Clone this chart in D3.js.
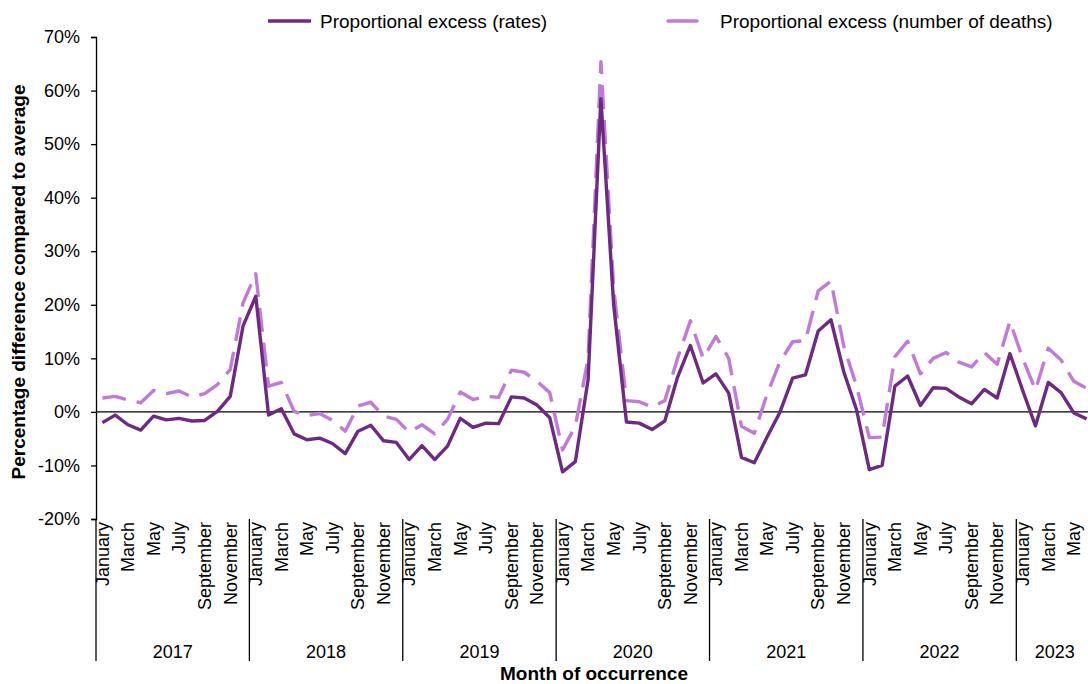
<!DOCTYPE html>
<html>
<head>
<meta charset="utf-8">
<script src="https://cdn.jsdelivr.net/npm/d3@7"></script>
<style>
  body { margin: 0; background: #fff; }
  svg { font-family: "Liberation Sans", Arial, sans-serif; }
</style>
</head>
<body>
<div id="chart"></div>
<script>
// Months shown, Jan 2017 to Jun 2023
var years = [2017, 2018, 2019, 2020, 2021, 2022, 2023]
var monthNames = ['January', 'February', 'March', 'April', 'May', 'June',
  'July', 'August', 'September', 'October', 'November', 'December']
var monthsInYear = [12, 12, 12, 12, 12, 12, 6]

// Proportional excess (rates), %
var rates = [
  -2.0, -0.6, -2.4, -3.4, -0.8, -1.5, -1.2, -1.7, -1.6, 0.1, 2.9, 16.0,
  21.6, -0.6, 0.6, -4.1, -5.2, -4.9, -5.9, -7.8, -3.6, -2.5, -5.4, -5.7,
  -8.9, -6.3, -8.9, -6.4, -1.2, -2.9, -2.1, -2.2, 2.8, 2.6, 1.3, -1.1,
  -11.2, -9.3, 6.0, 58.5, 20.0, -1.9, -2.1, -3.3, -1.7, 6.5, 12.4, 5.4,
  7.1, 3.5, -8.5, -9.5, -4.7, -0.1, 6.3, 6.9, 15.1, 17.2, 7.5, 0.4,
  -10.8, -10.0, 4.8, 6.7, 1.2, 4.5, 4.4, 2.8, 1.5, 4.2, 2.6, 10.9,
  4.0, -2.6, 5.5, 3.6, -0.2, -1.3
]

// Proportional excess (number of deaths), %
var deaths = [
  2.6, 2.9, 2.2, 1.7, 4.0, 3.4, 3.9, 2.8, 3.4, 5.1, 7.9, 20.3,
  25.8, 4.8, 5.5, 0.1, -0.7, -0.3, -1.6, -3.6, 1.1, 1.8, -0.8, -1.4,
  -3.8, -2.4, -4.1, -1.4, 3.7, 2.3, 2.9, 2.7, 7.8, 7.4, 5.7, 3.6,
  -7.1, -2.7, 10.0, 65.4, 23.0, 2.1, 1.9, 0.9, 2.1, 10.0, 17.0, 10.0,
  14.1, 10.0, -2.7, -4.0, 3.3, 9.3, 13.1, 13.3, 22.6, 24.4, 12.3, 4.8,
  -4.8, -4.7, 10.3, 13.2, 7.1, 10.0, 11.1, 9.3, 8.4, 11.1, 8.9, 16.9,
  10.0, 4.1, 11.9, 9.7, 5.7, 4.4
]

var yTicks = [-20, -10, 0, 10, 20, 30, 40, 50, 60, 70]

var darkPurple = '#6e2a82'
var lightPurple = '#c07bd8'

// build the list of month keys
var months = []
years.forEach(function (y, yi) {
  for (var m = 0; m < monthsInYear[yi]; m++) {
    months.push({ key: y + '-' + m, year: y, month: m })
  }
})

var width = 1088, height = 684
var margin = { left: 96, top: 37, bottom: 519 }
var plotRight = 1093

var svg = d3.select('#chart').append('svg')
    .attr('width', width)
    .attr('height', height)

var x = d3.scaleBand()
    .domain(months.map(function (d) { return d.key }))
    .range([margin.left, plotRight])

var y = d3.scaleLinear()
    .domain([-20, 70])
    .range([margin.bottom, margin.top])

// y axis
var yAxis = svg.append('g')
    .attr('transform', 'translate(' + margin.left + ',0)')
    .call(d3.axisLeft(y).tickValues(yTicks).tickSize(5).tickPadding(11)
      .tickFormat(function (d) { return d + '%' }))
yAxis.select('.domain').attr('stroke', '#000').attr('stroke-width', 1.3)
yAxis.selectAll('.tick line').attr('stroke', '#000').attr('stroke-width', 1.3)
yAxis.selectAll('text')
    .attr('font-size', 18)
    .attr('fill', '#000')
    .style('font-family', '"Liberation Sans", Arial, sans-serif')

// zero line
svg.append('line')
    .attr('x1', margin.left).attr('x2', plotRight)
    .attr('y1', y(0)).attr('y2', y(0))
    .attr('stroke', '#000')
    .attr('stroke-width', 1.3)

// month labels, every other month
svg.append('g').selectAll('text')
    .data(months.filter(function (d) { return d.month % 2 === 0 }))
    .enter().append('text')
    .attr('transform', function (d) {
      return 'translate(' + (x(d.key) + x.bandwidth() / 2) + ',' + (margin.bottom + 3) + ') rotate(-90)'
    })
    .attr('dy', '0.35em')
    .attr('text-anchor', 'end')
    .attr('font-size', 18)
    .text(function (d) { return monthNames[d.month] })

// year separators and labels
var yearStarts = years.map(function (yr) { return x(yr + '-0') })
svg.append('g').selectAll('line')
    .data(yearStarts)
    .enter().append('line')
    .attr('x1', function (d) { return d }).attr('x2', function (d) { return d })
    .attr('y1', margin.bottom).attr('y2', 661)
    .attr('stroke', '#000')
    .attr('stroke-width', 1.3)

svg.append('g').selectAll('text')
    .data(years)
    .enter().append('text')
    .attr('x', function (yr, i) {
      var first = x(yr + '-0')
      var last = x(yr + '-' + (monthsInYear[i] - 1)) + x.bandwidth()
      return (first + last) / 2
    })
    .attr('y', 658)
    .attr('text-anchor', 'middle')
    .attr('font-size', 18)
    .text(function (d) { return d })

// axis titles
svg.append('text')
    .attr('x', 594).attr('y', 680)
    .attr('text-anchor', 'middle')
    .attr('font-size', 19)
    .attr('font-weight', 'bold')
    .text('Month of occurrence')

svg.append('text')
    .attr('transform', 'translate(25,282) rotate(-90)')
    .attr('text-anchor', 'middle')
    .attr('font-size', 19)
    .attr('font-weight', 'bold')
    .text('Percentage difference compared to average')

// lines
var line = function (values) {
  return d3.line()
    .x(function (d, i) { return x(months[i].key) + x.bandwidth() / 2 })
    .y(function (d) { return y(d) })(values)
}

svg.append('path')
    .attr('d', line(deaths))
    .attr('fill', 'none')
    .attr('stroke', lightPurple)
    .attr('stroke-width', 3.4)
    .attr('stroke-dasharray', '24,11')
    .attr('stroke-linejoin', 'round')

svg.append('path')
    .attr('d', line(rates))
    .attr('fill', 'none')
    .attr('stroke', darkPurple)
    .attr('stroke-width', 3.4)
    .attr('stroke-linejoin', 'round')

// legend
var legend = svg.append('g')
legend.append('line')
    .attr('x1', 268).attr('x2', 311).attr('y1', 21).attr('y2', 21)
    .attr('stroke', darkPurple).attr('stroke-width', 3.4)
legend.append('text')
    .attr('x', 320).attr('y', 28)
    .attr('font-size', 19)
    .text('Proportional excess (rates)')
legend.append('line')
    .attr('x1', 668).attr('x2', 697).attr('y1', 21).attr('y2', 21)
    .attr('stroke', lightPurple).attr('stroke-width', 3.4)
    .attr('stroke-linecap', 'round')
legend.append('text')
    .attr('x', 720).attr('y', 28)
    .attr('font-size', 19)
    .text('Proportional excess (number of deaths)')
</script>
</body>
</html>
